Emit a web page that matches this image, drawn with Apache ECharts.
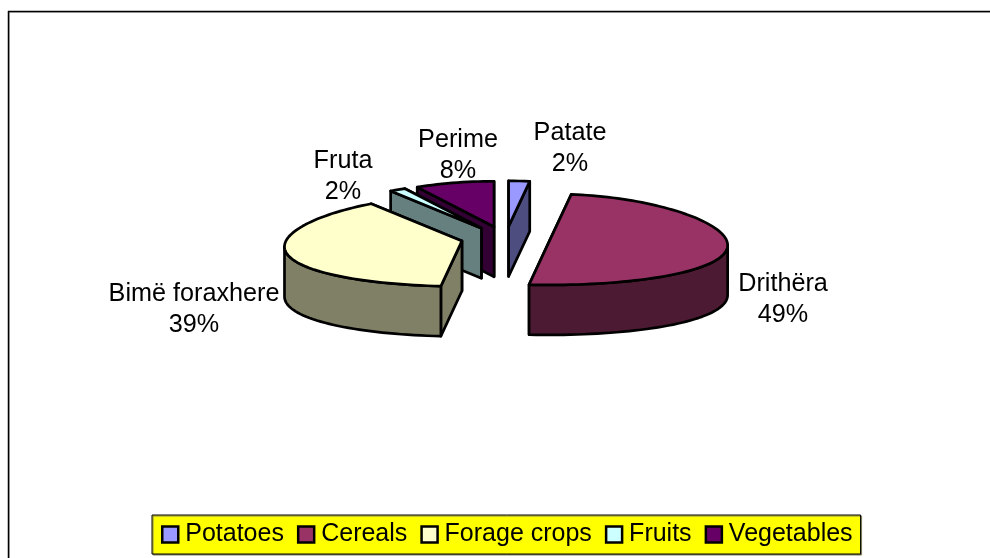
<!DOCTYPE html>
<html>
<head>
<meta charset="utf-8">
<style>
html, body { margin: 0; padding: 0; background: #fff; }
#myChart { width: 990px; height: 558px; }
</style>
</head>
<body>
<div id="myChart"></div>
<script src="https://cdn.jsdelivr.net/npm/echarts@6/dist/echarts.min.js"></script>
<script>
// legend names, label names and shares (%)
const categories = ['Potatoes', 'Cereals', 'Forage crops', 'Fruits', 'Vegetables'];
const labels = ['Patate', 'Drithëra', 'Bimë foraxhere', 'Fruta', 'Perime'];
const values = [2.2, 49.49, 38.52, 1.6, 8.19];

const topColors = ['#9999ff', '#993366', '#ffffcc', '#ccffff', '#660066'];
const sideColors = ['#4d4d80', '#4d1a33', '#808066', '#668080', '#330033'];

// layout of the tilted pie, in pixels (persp: the near side is drawn a bit wider)
const pie = { x: 505.5, y: 238, rx: 176, ry: 45.5, depth: 50, explode: 45, persp: 0.13 };
// the outer wall shows between these angles, where the rim is widest
const frontFrom = 97, frontTo = 263;
const labelPos = [[570, 149], [783, 300], [194, 310], [343, 177], [458, 156]];
// back to front, so nearer slices cover the ones behind
const drawOrder = [0, 4, 3, 2, 1];
const font = '25.2px "Liberation Sans", Arial, sans-serif';

const total = values.reduce((a, b) => a + b, 0);
const deg = Math.PI / 180;

function sliceAngles(index) {
    let before = 0;
    for (let i = 0; i < index; i++) before += values[i];
    return [before / total * 360, (before + values[index]) / total * 360];
}

// point on the rim, angle clockwise from 12 o'clock
function rim(c, a, drop) {
    let s = Math.sin(a * deg), k = Math.cos(a * deg);
    return [c[0] + pie.rx * s * (1 - pie.persp * k), c[1] - pie.ry * k + (drop || 0)];
}

function arc(c, from, to, drop) {
    let pts = [];
    let n = Math.max(2, Math.ceil((to - from) / 2));
    for (let i = 0; i <= n; i++) pts.push(rim(c, from + (to - from) * i / n, drop));
    return pts;
}

function renderSlice(index) {
    return function () {
        let [a0, a1] = sliceAngles(index);
        let mid = (a0 + a1) / 2;
        // every slice is pulled out along its own middle angle
        let c = [
            pie.x + pie.explode * Math.sin(mid * deg),
            pie.y - pie.explode * pie.ry / pie.rx * Math.cos(mid * deg)
        ];
        let edge = { stroke: '#000', lineWidth: 2.7, lineJoin: 'round' };
        let side = Object.assign({ fill: sideColors[index] }, edge);
        let top = Object.assign({ fill: topColors[index] }, edge);
        let kids = [];

        [a1, a0].forEach(a => {
            let p = rim(c, a);
            kids.push({
                type: 'polygon', silent: true, style: side,
                shape: { points: [c, p, [p[0], p[1] + pie.depth], [c[0], c[1] + pie.depth]] }
            });
        });

        let f0 = Math.max(a0, frontFrom), f1 = Math.min(a1, frontTo);
        if (f1 > f0) {
            kids.push({
                type: 'polygon', silent: true, style: side,
                shape: { points: arc(c, f0, f1).concat(arc(c, f0, f1, pie.depth).reverse()) }
            });
        }

        kids.push({
            type: 'polygon', silent: true, style: top,
            shape: { points: [c].concat(arc(c, a0, a1)) }
        });

        kids.push({
            type: 'text', silent: true,
            style: {
                text: labels[index] + '\n' + Math.round(values[index]) + '%',
                x: labelPos[index][0], y: labelPos[index][1],
                align: 'center', verticalAlign: 'middle',
                font: font, lineHeight: 31, fill: '#000'
            }
        });
        return { type: 'group', children: kids };
    };
}

let myChart = echarts.init(document.getElementById('myChart'));

let option = {
    animation: false,
    legend: {
        left: 152,
        top: 515,
        orient: 'horizontal',
        data: categories,
        icon: 'rect',
        itemWidth: 16,
        itemHeight: 16,
        itemGap: 13,
        padding: [7, 8, 7, 9],
        backgroundColor: '#ffff00',
        borderColor: '#000',
        borderWidth: 1,
        shadowColor: '#808060',
        shadowOffsetX: 1,
        shadowOffsetY: 1,
        selectedMode: false,
        itemStyle: { borderColor: '#000', borderWidth: 2.5 },
        textStyle: {
            color: '#000',
            fontSize: 25,
            fontFamily: '"Liberation Sans", Arial, sans-serif',
            padding: [0, 0, 0, 2]
        }
    },
    graphic: [
        // frame of the chart area, only its top and left edges are in the picture
        { type: 'line', silent: true, shape: { x1: 10, y1: 12.5, x2: 990, y2: 12.5 }, style: { stroke: '#c0c0c0', lineWidth: 1 } },
        { type: 'line', silent: true, shape: { x1: 9.5, y1: 12, x2: 9.5, y2: 558 }, style: { stroke: '#c0c0c0', lineWidth: 1 } },
        { type: 'line', silent: true, shape: { x1: 8, y1: 11.5, x2: 990, y2: 11.5 }, style: { stroke: '#000', lineWidth: 1.5 } },
        { type: 'line', silent: true, shape: { x1: 8.5, y1: 11, x2: 8.5, y2: 558 }, style: { stroke: '#000', lineWidth: 1.5 } }
    ],
    series: categories.map((name, i) => ({
        type: 'custom',
        name: name,
        coordinateSystem: 'none',
        z: 2 + drawOrder.indexOf(i),
        itemStyle: { color: topColors[i] },
        data: [values[i]],
        renderItem: renderSlice(i)
    }))
};
myChart.setOption(option);
</script>
</body>
</html>
